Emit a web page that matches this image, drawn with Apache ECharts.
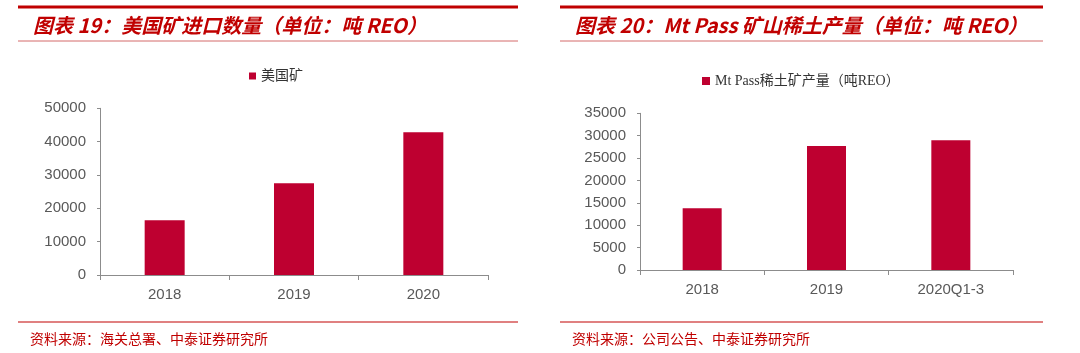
<!DOCTYPE html>
<html>
<head>
<meta charset="utf-8">
<script src="https://cdn.jsdelivr.net/npm/echarts@6/dist/echarts.min.js"></script>
<style>
  html, body { margin: 0; padding: 0; background: #fff; }
  #main { width: 1080px; height: 353px; }
</style>
</head>
<body>
<div id="main"></div>
<script>
// chart 19: US ore imports (t REO)
var importYears = ['2018', '2019', '2020'];
var importValues = [16400, 27500, 42800];
// chart 20: Mt Pass output (t REO)
var mtPassPeriods = ['2018', '2019', '2020Q1-3'];
var mtPassValues = [13800, 27700, 29000];

var barColor = '#BE0030';
var red = '#C00000';
var axisColor = '#8C8C8C';
var labelColor = '#595959';
var cjk = '"Noto Sans CJK SC", sans-serif';
var serif = '"Liberation Serif", "Noto Sans CJK SC", serif';

var chart = echarts.init(document.getElementById('main'));

function xAxisFor(idx, data) {
  return {
    type: 'category',
    gridIndex: idx,
    data: data,
    axisLine: { lineStyle: { color: axisColor, width: 1 } },
    axisTick: { show: true, length: 5, lineStyle: { color: axisColor } },
    axisLabel: { color: labelColor, fontSize: 15, margin: 12, fontFamily: '"Liberation Sans", Arial' }
  };
}
function yAxisFor(idx, max, step) {
  return {
    type: 'value',
    gridIndex: idx,
    min: 0,
    max: max,
    interval: step,
    splitLine: { show: false },
    axisLine: { show: true, lineStyle: { color: axisColor, width: 1 } },
    axisTick: { show: true, length: 3, lineStyle: { color: axisColor } },
    axisLabel: {
      color: labelColor, fontSize: 15, margin: 14, fontFamily: '"Liberation Sans", Arial',
      formatter: function (v) { return String(v); }
    }
  };
}

function hline(x1, x2, y, color, w) {
  return { type: 'line', shape: { x1: x1, y1: y, x2: x2, y2: y }, style: { stroke: color, lineWidth: w }, silent: true };
}
function label(x, y, text, size, bold, italic) {
  return {
    type: 'text', x: x, y: y,
    style: {
      text: text, fill: red, fontSize: size, fontFamily: cjk,
      fontWeight: bold ? 'bold' : 'normal', fontStyle: italic ? 'italic' : 'normal',
      verticalAlign: 'middle'
    }
  };
}

var option = {
  animation: false,
  grid: [
    { left: 100, top: 108.3, width: 388, height: 166.7 },
    { left: 640, top: 113.3, width: 373, height: 156.7 }
  ],
  legend: [
    {
      left: 244, top: 64, icon: 'rect', itemWidth: 7, itemHeight: 7, itemGap: 4,
      data: ['美国矿'],
      textStyle: { color: '#333', fontSize: 14, fontFamily: serif }
    },
    {
      left: 697, top: 69, icon: 'rect', itemWidth: 8, itemHeight: 8, itemGap: 4,
      data: ['Mt Pass稀土矿产量（吨REO）'],
      textStyle: { color: '#333', fontSize: 14, fontFamily: serif }
    }
  ],
  xAxis: [xAxisFor(0, importYears), xAxisFor(1, mtPassPeriods)],
  yAxis: [yAxisFor(0, 50000, 10000), yAxisFor(1, 35000, 5000)],
  series: [
    {
      name: '美国矿', type: 'bar', xAxisIndex: 0, yAxisIndex: 0,
      data: importValues, barWidth: 40, itemStyle: { color: barColor }
    },
    {
      name: 'Mt Pass稀土矿产量（吨REO）', type: 'bar', xAxisIndex: 1, yAxisIndex: 1,
      data: mtPassValues, barWidth: 39, itemStyle: { color: barColor }
    }
  ],
  graphic: [
    hline(18, 518, 7, red, 3),
    hline(18, 518, 41, '#D46A6A', 1),
    hline(18, 518, 322, '#E08080', 2),
    hline(560, 1043, 7, red, 3),
    hline(560, 1043, 41, '#D46A6A', 1),
    hline(560, 1043, 322, '#E08080', 2),
    label(33, 25, '图表 19：美国矿进口数量（单位：吨 REO）', 20, true, true),
    label(575, 25, '图表 20：Mt Pass 矿山稀土产量（单位：吨 REO）', 20, true, true),
    label(30, 339, '资料来源：海关总署、中泰证券研究所', 14, false, false),
    label(572, 339, '资料来源：公司公告、中泰证券研究所', 14, false, false)
  ]
};
chart.setOption(option);
window.addEventListener('resize', function () { chart.resize(); });
</script>
</body>
</html>
